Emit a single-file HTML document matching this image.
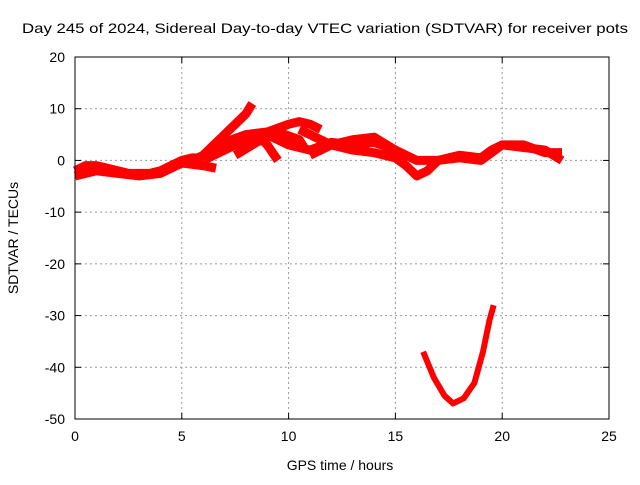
<!DOCTYPE html>
<html><head><meta charset="utf-8"><style>
body{margin:0;background:#fff}
svg text{font-family:"Liberation Sans",sans-serif;font-size:14px;fill:#000}
</style></head><body>
<svg id="chart" width="640" height="480">
<text x="22" y="33" textLength="606" lengthAdjust="spacingAndGlyphs">Day 245 of 2024, Sidereal Day-to-day VTEC variation (SDTVAR) for receiver pots</text>
<text x="340" y="470" text-anchor="middle">GPS time / hours</text>
<text transform="translate(18,238) rotate(-90)" text-anchor="middle">SDTVAR / TECUs</text>
<g id="grid"></g><g id="series"></g>
<rect x="75" y="57" width="534" height="362" fill="none" stroke="#000"/>
</svg>
<script>
const xTicks=[0,5,10,15,20,25];
const yTicks=[20,10,0,-10,-20,-30,-40,-50];
const track1=[[0,-2],[0.5,-1],[1,-1],[1.5,-1.5],[2,-2],[2.5,-2.5],[3,-2.5],[3.5,-2.5],[4,-2],[4.5,-1],[5,0],[5.5,0.5],[6,0.5]];
const track2=[[0,-3],[1,-2],[2,-2.5],[3,-3],[4,-2.5],[5,-0.5],[6,-1],[6.6,-1.5]];
const track3=[[5.5,0],[6,1],[6.5,3],[7,5],[7.5,7],[8,9],[8.3,11]];
const track4=[[6,1],[7,3.5],[8,5],[9,5.5]];
const track5=[[6,0],[7,2],[8,4],[9,5.5],[10,7],[10.5,7.5],[11,7],[11.5,6]];
const track6=[[8.5,5],[9,3],[9.5,0]];
const track7=[[7.5,1],[8.5,3.5],[9.5,5.5],[10.5,4],[10.8,2]];
const track8=[[9,5],[10,3],[11,2],[12,3.5],[13,3],[14,3.5],[15,2],[16,0],[17,0],[18,0.5],[19,0],[20,3],[21,2.5],[22,2],[22.8,0]];
const track9=[[10.5,6],[11,5],[12,3],[13,2],[14,1.5],[15,0.5],[15.5,-1],[16,-3],[16.5,-2],[17,0],[18,1],[19,0.5],[19.5,2],[20,3],[21,3],[22,1.5],[22.8,1.5]];
const track10=[[11,1],[12,3],[13,4],[14,4.5],[15,2]];
const track11=[[16.3,-37],[16.8,-42],[17.3,-45.5],[17.7,-47],[18.2,-46],[18.7,-43],[19.1,-37],[19.4,-31],[19.6,-28]];
const tracks=[track1,track2,track3,track4,track5,track6,track7,track8,track9,track10,track11];
const X=v=>75+v*534/25, Y=v=>57+(20-v)*362/70;
const NS='http://www.w3.org/2000/svg';
const g=document.getElementById('grid'), s=document.getElementById('series');
function mk(tag,at,p){const e=document.createElementNS(NS,tag);for(const k in at)e.setAttribute(k,at[k]);p.appendChild(e);return e;}
xTicks.forEach(t=>{
 if(t>0&&t<25){const l=mk('line',{x1:X(t),x2:X(t),y1:57,y2:419,stroke:'#999','stroke-dasharray':'2,3'},g);
 
 }
 mk('line',{x1:X(t),x2:X(t),y1:419,y2:413,stroke:'#000'},g);
 mk('line',{x1:X(t),x2:X(t),y1:57,y2:63,stroke:'#000'},g);
 const tx=mk('text',{x:X(t),y:441,'text-anchor':'middle'},g);tx.textContent=t;
 
 
});
yTicks.forEach(t=>{
 if(t<20&&t>-50){const l=mk('line',{x1:75,x2:609,y1:Y(t),y2:Y(t),stroke:'#999','stroke-dasharray':'2,3'},g);
 
 }
 mk('line',{x1:75,x2:81,y1:Y(t),y2:Y(t),stroke:'#000'},g);
 mk('line',{x1:609,x2:603,y1:Y(t),y2:Y(t),stroke:'#000'},g);
 const tx=mk('text',{x:65,y:Y(t)+5,'text-anchor':'end'},g);tx.textContent=t;
 
 
});
tracks.forEach((tr,i)=>{
 const pl=mk('polyline',{points:tr.map(p=>X(p[0])+','+Y(p[1])).join(' '),fill:'none',stroke:'#f00','stroke-width':(i===10?6:9),'stroke-linejoin':'round','stroke-linecap':'butt'},s);
 
 
});
</script>
</body></html>
